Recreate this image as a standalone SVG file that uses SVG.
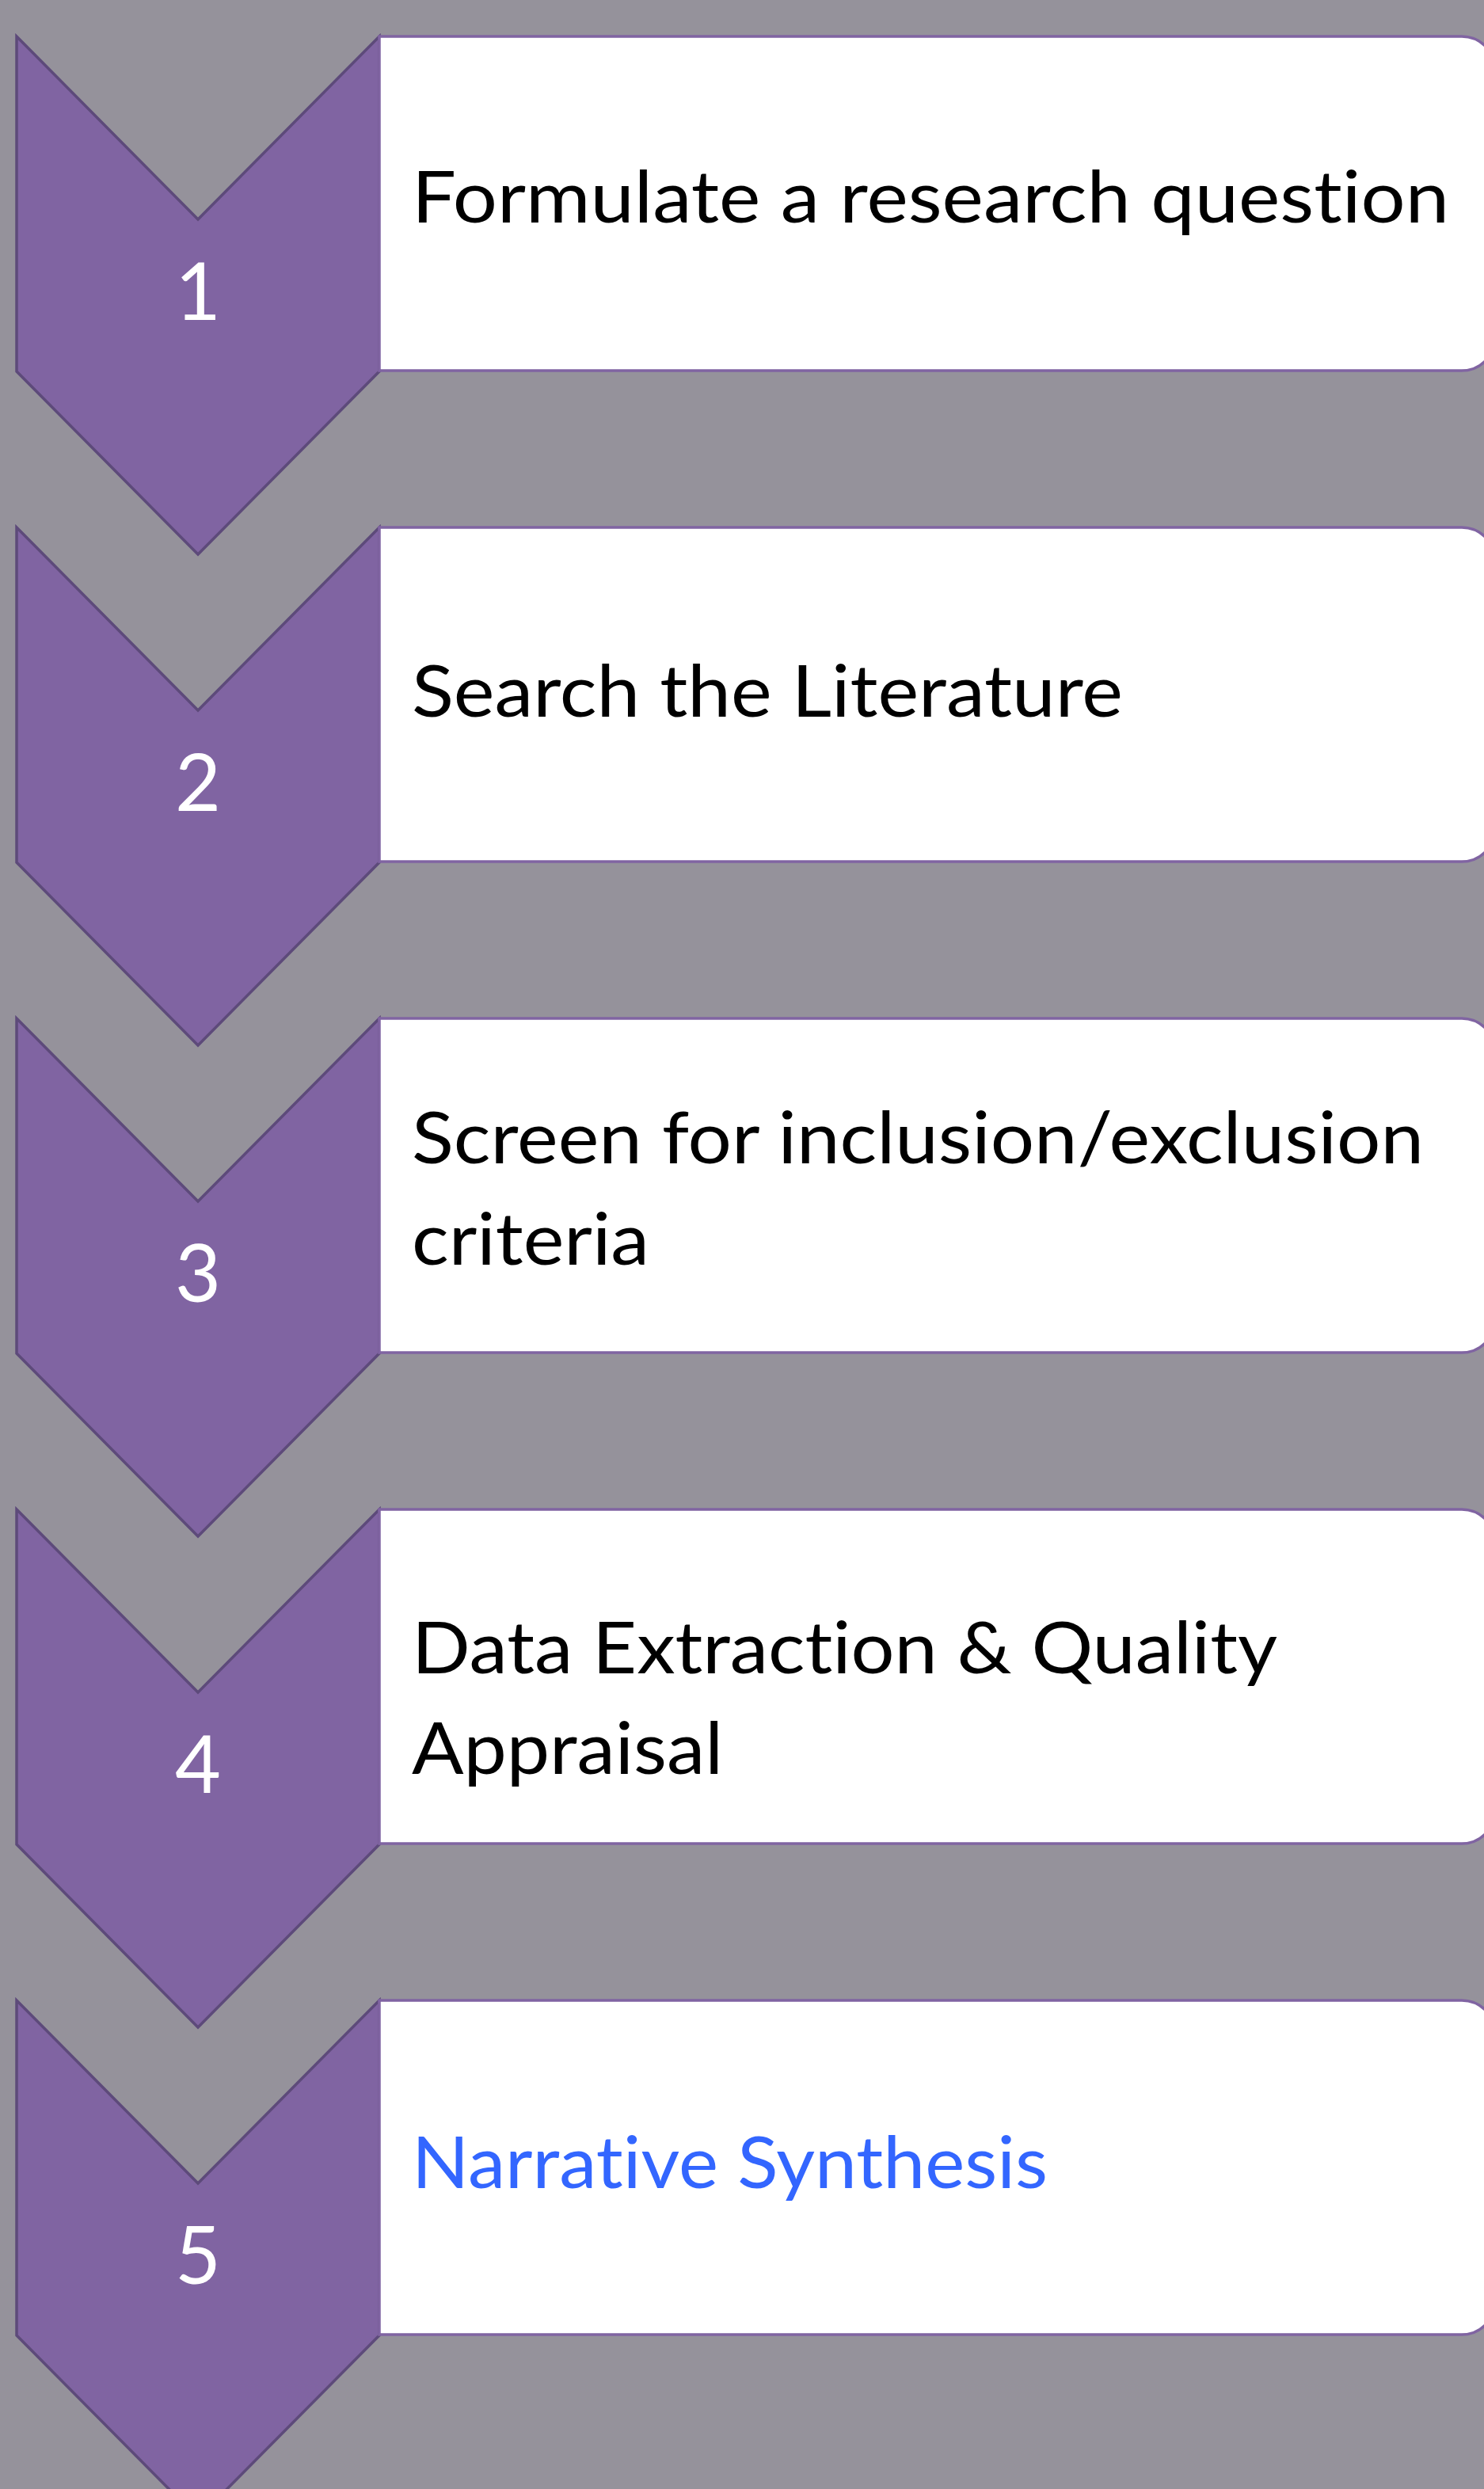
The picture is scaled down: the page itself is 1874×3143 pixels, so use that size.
<svg xmlns="http://www.w3.org/2000/svg" width="1874" height="3143" viewBox="0 0 1874 3143">
<style>
.bg{fill:#95929b}
.chev{fill:#8064a2;stroke:#5d4a7a;stroke-width:3.5;stroke-linejoin:miter}
.box{fill:#ffffff;stroke:#8064a2;stroke-width:3.5}
.num{font-family:Lato,"Liberation Sans",sans-serif;font-size:100px;fill:#ffffff;text-anchor:middle}
.lbl{font-family:Lato,"Liberation Sans",sans-serif;font-size:92px;fill:#000000;font-variant-ligatures:none;font-feature-settings:"liga" 0,"clig" 0}
.blue{fill:#3366ff}
</style>
<defs>
<path id="chevShape" d="M21,0 L250,231 L479,0 L479,423 L250,654 L21,423 Z"/>
<path id="boxShape" d="M479,0 H1846 A42,42 0 0 1 1888,42 V380 A42,42 0 0 1 1846,422 H479 Z"/>
</defs>
<rect class="bg" x="0" y="0" width="1874" height="3143"/>
<g id="connectors"></g>
<g id="step1" transform="translate(0,46)">
<use href="#chevShape" class="chev"/>
<use href="#boxShape" class="box"/>
<text class="num" x="250" y="358">1</text>
<text class="lbl" x="520" y="235" textLength="1310" lengthAdjust="spacingAndGlyphs">Formulate a research question</text>
</g>
<g id="step2" transform="translate(0,666)">
<use href="#chevShape" class="chev"/>
<use href="#boxShape" class="box"/>
<text class="num" x="250" y="358">2</text>
<text class="lbl" x="520" y="239" textLength="898" lengthAdjust="spacingAndGlyphs">Search the Literature</text>
</g>
<g id="step3" transform="translate(0,1286)">
<use href="#chevShape" class="chev"/>
<use href="#boxShape" class="box"/>
<text class="num" x="250" y="358">3</text>
<text class="lbl" x="520" y="183" textLength="1278" lengthAdjust="spacingAndGlyphs">Screen for inclusion/exclusion</text>
<text class="lbl" x="520" y="311" textLength="300" lengthAdjust="spacingAndGlyphs">criteria</text>
</g>
<g id="step4" transform="translate(0,1906)">
<use href="#chevShape" class="chev"/>
<use href="#boxShape" class="box"/>
<text class="num" x="250" y="358">4</text>
<text class="lbl" x="520" y="207" textLength="1093" lengthAdjust="spacingAndGlyphs">Data Extraction &amp; Quality</text>
<text class="lbl" x="520" y="334" textLength="393" lengthAdjust="spacingAndGlyphs">Appraisal</text>
</g>
<g id="step5" transform="translate(0,2526)">
<use href="#chevShape" class="chev"/>
<use href="#boxShape" class="box"/>
<text class="num" x="250" y="358">5</text>
<text class="lbl blue" x="520" y="237" textLength="803" lengthAdjust="spacingAndGlyphs">Narrative Synthesis</text>
</g>
</svg>
